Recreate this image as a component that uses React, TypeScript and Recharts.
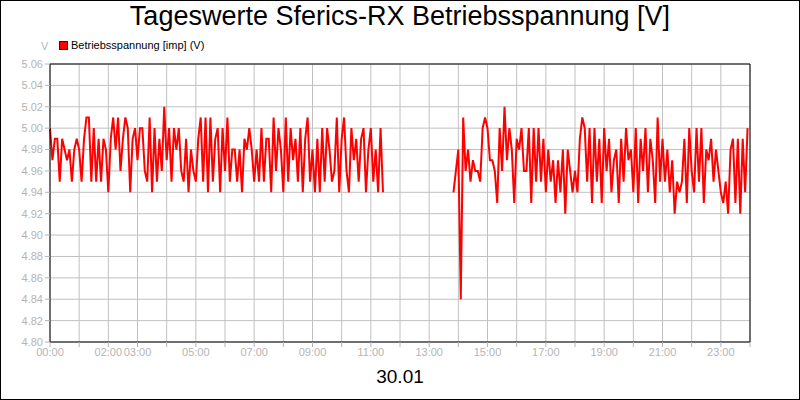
import { CartesianGrid, Line, LineChart, ReferenceLine, XAxis, YAxis } from "recharts";

// 5-minute samples, 00:00 .. 11:25
const morningValues = [
  5.0, 4.97, 4.99, 4.99, 4.95, 4.99, 4.98, 4.97, 4.98, 4.95,
  4.98, 4.99, 4.98, 4.95, 4.99, 5.01, 5.01, 4.95, 5.0, 4.95,
  4.99, 4.95, 4.99, 4.98, 4.94, 4.99, 5.01, 4.98, 5.01, 4.96,
  4.99, 5.01, 5.0, 4.94, 4.99, 5.0, 4.97, 5.0, 5.0, 4.96,
  4.95, 5.01, 4.94, 5.0, 4.95, 4.99, 4.96, 5.02, 4.97, 5.0,
  4.95, 5.0, 4.98, 5.0, 4.96, 4.95, 4.99, 4.94, 4.98, 4.96,
  4.95, 4.99, 5.01, 4.95, 5.01, 4.94, 5.01, 4.95, 4.99, 5.0,
  4.94, 5.0, 4.96, 5.01, 4.95, 4.98, 4.98, 4.95, 4.98, 4.94,
  4.99, 4.98, 5.0, 4.98, 4.95, 4.98, 4.95, 5.0, 4.95, 4.99,
  4.99, 4.94, 5.01, 4.96, 5.0, 4.98, 4.94, 5.01, 4.95, 5.0,
  4.97, 4.99, 4.95, 5.0, 4.94, 4.99, 5.01, 4.95, 4.98, 4.94,
  4.99, 4.94, 5.0, 4.95, 5.0, 4.98, 4.95, 4.96, 5.01, 4.94,
  4.99, 5.01, 4.96, 4.94, 5.0, 4.97, 4.99, 4.95, 4.99, 5.0,
  4.94, 4.98, 5.0, 4.95, 4.98, 4.94, 5.0, 4.94,
];

// 5-minute samples, 13:50 .. 23:55
const eveningStart = 830;
const eveningValues = [
  4.94, 4.96, 4.98, 4.84, 5.01, 4.96, 4.98, 4.95, 4.97, 4.96,
  4.96, 4.95, 5.0, 5.01, 5.0, 4.97, 4.97, 4.96, 4.93, 5.0,
  4.96, 5.02, 4.97, 5.0, 4.98, 4.93, 4.99, 4.98, 5.0, 4.96,
  4.96, 5.0, 4.93, 5.0, 4.95, 5.0, 4.95, 4.99, 4.94, 4.98,
  4.95, 4.97, 4.93, 4.97, 4.94, 4.98, 4.92, 4.98, 4.96, 4.94,
  4.96, 4.94, 4.99, 5.01, 5.0, 4.95, 5.0, 4.93, 5.0, 4.95,
  4.99, 4.93, 5.0, 4.96, 4.99, 4.94, 4.97, 4.98, 4.93, 4.99,
  4.95, 5.0, 4.97, 4.98, 4.94, 5.0, 4.93, 4.99, 4.96, 5.0,
  4.94, 4.99, 4.97, 4.93, 5.01, 4.95, 4.99, 4.95, 4.98, 4.94,
  4.97, 4.92, 4.95, 4.94, 4.95, 4.99, 4.93, 5.0, 4.96, 4.94,
  5.0, 4.95, 5.0, 4.93, 4.98, 4.97, 4.99, 4.95, 4.98, 4.96,
  4.94, 4.93, 4.95, 4.92, 4.98, 4.99, 4.93, 4.99, 4.92, 4.99, 4.94, 5.0,
];

const yTicks = [4.8, 4.82, 4.84, 4.86, 4.88, 4.9, 4.92, 4.94, 4.96, 4.98, 5.0, 5.02, 5.04, 5.06];
const hourTicks = [0, 1, 2, 3, 4, 5, 6, 7, 8, 9, 10, 11, 12, 13, 14, 15, 16, 17, 18, 19, 20, 21, 22, 23, 24];
const labelledHours = [0, 2, 3, 5, 7, 9, 11, 13, 15, 17, 19, 21, 23];

const data = [
  ...morningValues.map((v, i) => ({ t: i * 5, v })),
  { t: 760, v: null },
  ...eveningValues.map((v, i) => ({ t: eveningStart + i * 5, v })),
];

const font = "'Liberation Sans', Arial, sans-serif";
const grey = "#b4b4b4";

function hourLabel(min: number) {
  const h = Math.round(min / 60);
  if (!labelledHours.includes(h)) return "";
  return `${String(h).padStart(2, "0")}:00`;
}

export default function App() {
  return (
    <div style={{ position: "relative", width: 800, height: 400, background: "#fff", fontFamily: font }}>
      <style>{`body{margin:0}`}</style>
      <LineChart width={800} height={400} data={data} margin={{ top: 64, right: 50, bottom: 0, left: 0 }}>
        <CartesianGrid stroke="#c0c0c0" strokeWidth={1} />
        <XAxis
          dataKey="t"
          type="number"
          domain={[0, 1440]}
          ticks={hourTicks.map((h) => h * 60)}
          tickFormatter={hourLabel}
          interval={0}
          height={58}
          axisLine={{ stroke: "#000" }}
          tickLine={{ stroke: grey }}
          tickSize={5}
          tickMargin={1}
          tick={{ fill: grey, fontSize: 11, fontFamily: font }}
        />
        <YAxis
          type="number"
          domain={[4.8, 5.06]}
          ticks={yTicks}
          interval={0}
          width={50}
          tickFormatter={(v: number) => v.toFixed(2)}
          axisLine={{ stroke: "#000" }}
          tickLine={{ stroke: grey }}
          tickSize={5}
          tickMargin={2}
          tick={{ fill: grey, fontSize: 11, fontFamily: font }}
        />
        <ReferenceLine y={5.06} stroke="#000" />
        <ReferenceLine x={1440} stroke="#000" />
        <Line
          type="linear"
          dataKey="v"
          stroke="#ff0000"
          strokeWidth={2}
          dot={false}
          connectNulls={false}
          isAnimationActive={false}
        />
      </LineChart>

      <div style={{ position: "absolute", left: 0, top: 1, width: 800, textAlign: "center", fontSize: 27, color: "#000" }}>
        Tageswerte Sferics-RX Betriebsspannung [V]
      </div>
      <div style={{ position: "absolute", left: 41, top: 40, fontSize: 11, color: grey }}>V</div>
      <div style={{ position: "absolute", left: 59, top: 39, display: "flex", alignItems: "center", fontSize: 11, color: "#000" }}>
        <span style={{ display: "inline-block", width: 7, height: 7, background: "#ff0000", border: "1px solid #600", marginRight: 3 }} />
        Betriebsspannung [imp] (V)
      </div>
      <div style={{ position: "absolute", left: 0, top: 366, width: 800, textAlign: "center", fontSize: 19, color: "#000" }}>
        30.01
      </div>
      <div style={{ position: "absolute", inset: 0, border: "1px solid #000", pointerEvents: "none" }} />
    </div>
  );
}
